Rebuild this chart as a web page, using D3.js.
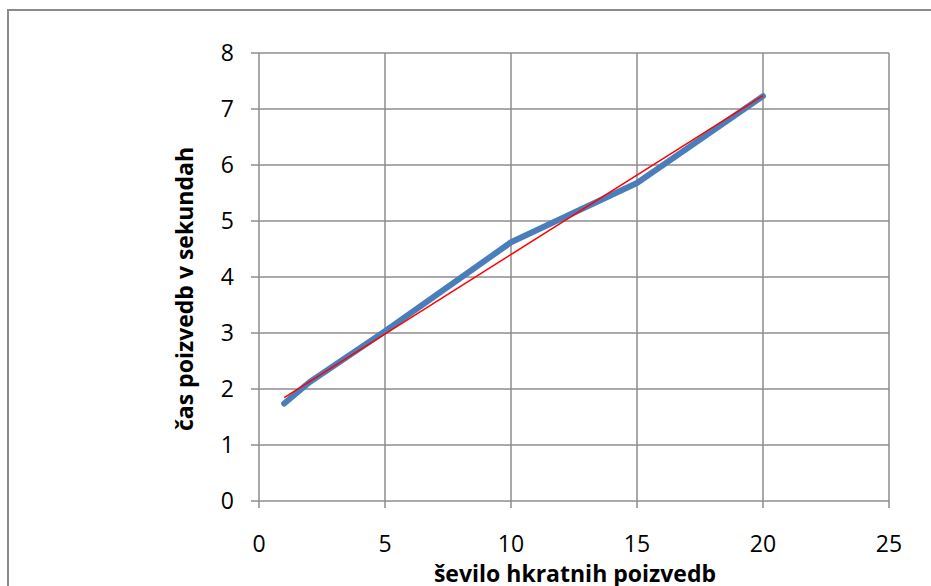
<!DOCTYPE html>
<html><head><meta charset="utf-8">
<script src="https://cdn.jsdelivr.net/npm/d3@7"></script>
<style>html,body{margin:0;padding:0;background:#fff;}svg{display:block;}</style>
</head><body>
<svg id="c" width="931" height="586"></svg>
<script>
const xValues = [1, 2, 5, 10, 15, 20];
const yValues = [1.74, 2.12, 3.03, 4.62, 5.68, 7.23];
const xTicks = [0, 5, 10, 15, 20, 25];
const yTicks = [0, 1, 2, 3, 4, 5, 6, 7, 8];
const xTitle = "ševilo hkratnih poizvedb";
const yTitle = "čas poizvedb v sekundah";

const svg = d3.select("#c");
const font = "'Open Sans', sans-serif";
const grid = "#8c8c8c";

// outer frame
svg.append("rect").attr("x", 8).attr("y", 10).attr("width", 940).attr("height", 600)
  .attr("fill", "none").attr("stroke", "#8a8a8a").attr("stroke-width", 2);

const x = d3.scaleLinear().domain([0, 25]).range([259, 889]);
const y = d3.scaleLinear().domain([0, 8]).range([501, 53]);

// gridlines
svg.append("g").selectAll("line").data(yTicks).join("line")
  .attr("x1", x(0) - 8).attr("x2", x(25))
  .attr("y1", d => y(d)).attr("y2", d => y(d))
  .attr("stroke", grid).attr("stroke-width", 1.5);
svg.append("g").selectAll("line").data(xTicks).join("line")
  .attr("x1", d => x(d)).attr("x2", d => x(d))
  .attr("y1", y(8)).attr("y2", y(0) + 7)
  .attr("stroke", grid).attr("stroke-width", 1.5);

// tick labels
svg.append("g").selectAll("text").data(yTicks).join("text")
  .attr("x", 234).attr("y", d => y(d)).attr("dy", "0.36em")
  .attr("text-anchor", "end").attr("font-family", font).attr("font-size", 23)
  .attr("fill", "#000").text(d => d);
svg.append("g").selectAll("text").data(xTicks).join("text")
  .attr("x", d => x(d)).attr("y", 552)
  .attr("text-anchor", "middle").attr("font-family", font).attr("font-size", 23)
  .attr("fill", "#000").text(d => d);

// data line
const pts = xValues.map((v, i) => [v, yValues[i]]);
svg.append("path").datum(pts)
  .attr("d", d3.line().x(d => x(d[0])).y(d => y(d[1])))
  .attr("fill", "none").attr("stroke", "#4A7EBB").attr("stroke-width", 6)
  .attr("stroke-linecap", "round").attr("stroke-linejoin", "round");

// linear trendline (least squares from data)
const mx = d3.mean(xValues), my = d3.mean(yValues);
const sxy = d3.sum(xValues, (v, i) => (v - mx) * (yValues[i] - my));
const sxx = d3.sum(xValues, v => (v - mx) * (v - mx));
const slope = sxy / sxx, icpt = my - slope * mx;
const xr = d3.extent(xValues);
svg.append("line")
  .attr("x1", x(xr[0])).attr("y1", y(icpt + slope * xr[0]))
  .attr("x2", x(xr[1])).attr("y2", y(icpt + slope * xr[1]))
  .attr("stroke", "#FF0000").attr("stroke-width", 1.5);

// axis titles
svg.append("text").attr("x", 575).attr("y", 582).attr("text-anchor", "middle")
  .attr("font-family", font).attr("font-weight", "bold").attr("font-size", 23)
  .attr("fill", "#000").text(xTitle);
svg.append("text").attr("transform", "translate(193,289) rotate(-90)")
  .attr("text-anchor", "middle")
  .attr("font-family", font).attr("font-weight", "bold").attr("font-size", 23)
  .attr("fill", "#000").text(yTitle);
</script>
</body></html>
